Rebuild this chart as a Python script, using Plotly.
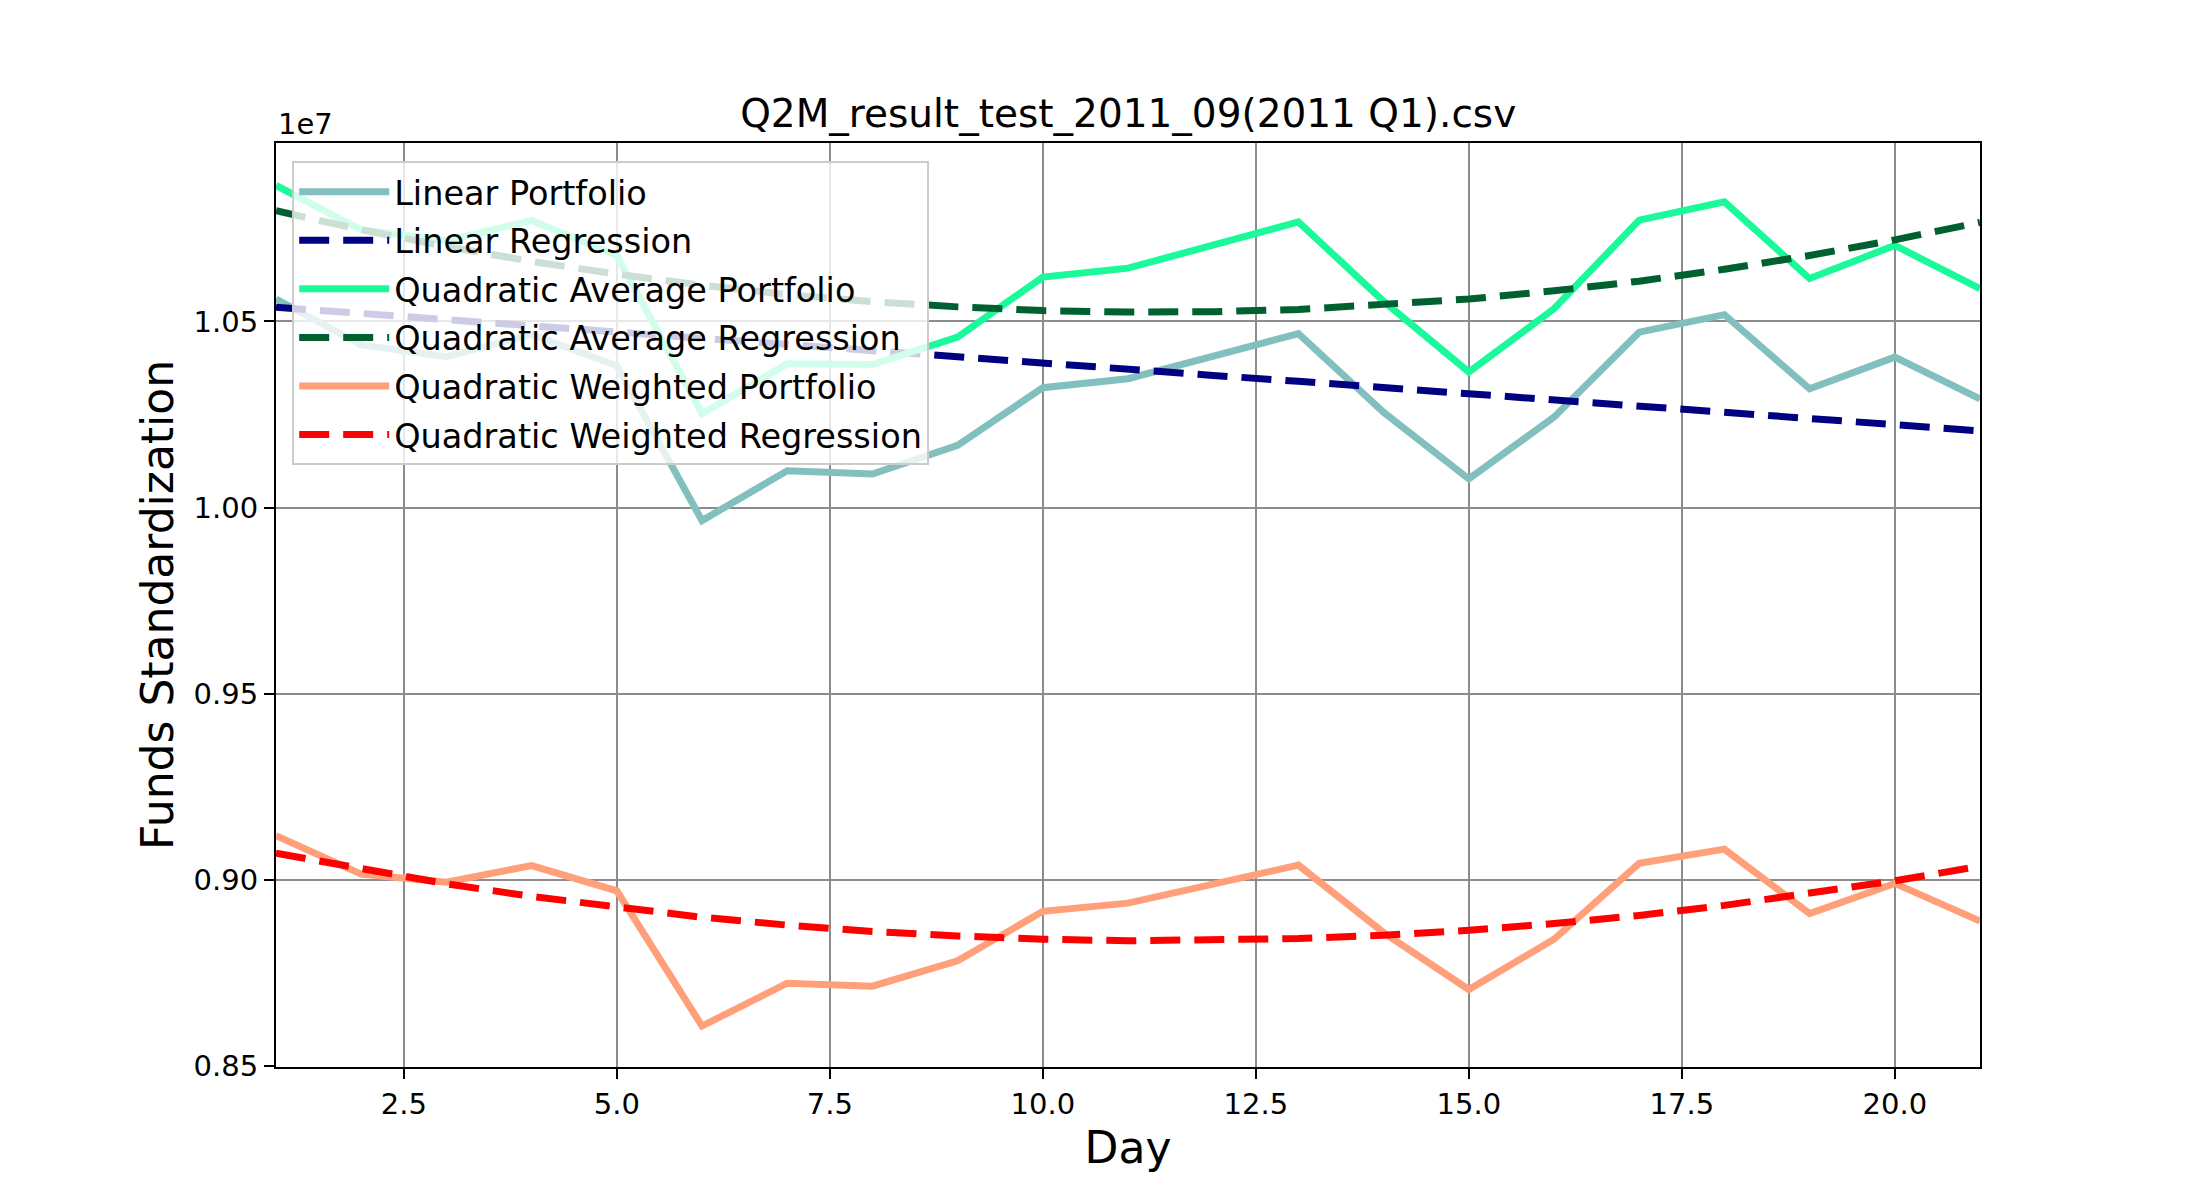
import plotly.graph_objects as go

days = list(range(1, 22))

linear_portfolio = [1.0560, 1.0437, 1.0405, 1.0465, 1.0381, 0.9965, 1.0099, 1.0090, 1.0167, 1.0322, 1.0346,
                    1.0406, 1.0467, 1.0256, 1.0077, 1.0243, 1.0471, 1.0518, 1.0319, 1.0404, 1.0292]
linear_regression = [1.0538, 1.0521, 1.0505, 1.0488, 1.0472, 1.0455, 1.0438, 1.0422, 1.0405, 1.0389, 1.0372,
                     1.0355, 1.0339, 1.0322, 1.0306, 1.0289, 1.0272, 1.0256, 1.0239, 1.0223, 1.0206]
quad_avg_portfolio = [1.0865, 1.0746, 1.0717, 1.0771, 1.0677, 1.0252, 1.0386, 1.0384, 1.0458, 1.0619, 1.0643,
                      1.0705, 1.0767, 1.0554, 1.0364, 1.0534, 1.0772, 1.0821, 1.0615, 1.0704, 1.0588]
quad_avg_regression = [1.0797, 1.0746, 1.0701, 1.0661, 1.0627, 1.0597, 1.0572, 1.0553, 1.0539, 1.0529, 1.0525,
                       1.0526, 1.0532, 1.0544, 1.0560, 1.0582, 1.0608, 1.0640, 1.0677, 1.0719, 1.0766]
quad_w_portfolio = [0.9119, 0.9016, 0.8994, 0.9039, 0.8971, 0.8608, 0.8723, 0.8715, 0.8783, 0.8916, 0.8938,
                    0.8989, 0.9040, 0.8859, 0.8706, 0.8841, 0.9045, 0.9083, 0.8910, 0.8991, 0.8890]
quad_w_regression = [0.9072, 0.9029, 0.8990, 0.8956, 0.8926, 0.8900, 0.8879, 0.8862, 0.8850, 0.8841, 0.8837,
                     0.8838, 0.8843, 0.8852, 0.8865, 0.8883, 0.8905, 0.8932, 0.8963, 0.8998, 0.9037]

series_names = ["Linear Portfolio", "Linear Regression", "Quadratic Average Portfolio",
                "Quadratic Average Regression", "Quadratic Weighted Portfolio", "Quadratic Weighted Regression"]
series_values = [linear_portfolio, linear_regression, quad_avg_portfolio,
                 quad_avg_regression, quad_w_portfolio, quad_w_regression]
series_colors = ["#82BFBF", "#000080", "#1AFA9A", "#00602F", "#FFA07A", "#FF0000"]
series_dash = ["solid", "30px,14px", "solid", "30px,14px", "solid", "30px,14px"]

x_ticks = [2.5, 5.0, 7.5, 10.0, 12.5, 15.0, 17.5, 20.0]
y_ticks = [0.85, 0.90, 0.95, 1.00, 1.05]

FONT = "DejaVu Sans"

fig = go.Figure()
for i, (name, vals, col, dash) in enumerate(zip(series_names, series_values, series_colors, series_dash)):
    fig.add_trace(go.Scatter(
        x=days, y=vals, mode="lines", name=name,
        line=dict(color=col, width=7, dash=dash),
        legendgroup="g%d" % i,
    ))

fig.update_layout(
    width=2200, height=1200,
    paper_bgcolor="white", plot_bgcolor="white",
    margin=dict(l=268, r=228, t=135, b=141),
    font=dict(family=FONT, color="black", size=29),
    title=dict(text="Q2M_result_test_2011_09(2011 Q1).csv", x=0.5092, xanchor="center",
               y=1 - 105 / 1200, yanchor="middle", font=dict(size=39, family=FONT)),
    showlegend=True,
    legend=dict(x=0.0095, y=0.98, xanchor="left", yanchor="top",
                bgcolor="rgba(255,255,255,0.8)", bordercolor="#cccccc", borderwidth=2,
                font=dict(size=33.5, family=FONT), tracegroupgap=2, itemwidth=90),
    xaxis=dict(range=[1, 21], tickvals=x_ticks, ticktext=["%.1f" % v for v in x_ticks],
               showgrid=True, gridcolor="#8c8c8c", gridwidth=1.6, zeroline=False,
               showline=True, linecolor="black", linewidth=2.2, mirror=True,
               ticks="outside", ticklen=10, tickwidth=2.2, tickcolor="black",
               tickfont=dict(size=29, family=FONT),
               title=dict(text="Day", font=dict(size=44, family=FONT), standoff=12)),
    yaxis=dict(range=[0.8498, 1.0979], tickvals=y_ticks, ticktext=["%.2f" % v for v in y_ticks],
               showgrid=True, gridcolor="#8c8c8c", gridwidth=1.6, zeroline=False,
               showline=True, linecolor="black", linewidth=2.2, mirror=True,
               ticks="outside", ticklen=10, tickwidth=2.2, tickcolor="black",
               tickfont=dict(size=29, family=FONT),
               title=dict(text="Funds Standardization", font=dict(size=44, family=FONT), standoff=6)),
    annotations=[dict(text="1e7", xref="paper", yref="paper", x=0, y=1, xanchor="left", yanchor="bottom",
                      yshift=0, showarrow=False, font=dict(size=29, family=FONT))],
)

fig.write_html("out.html")
